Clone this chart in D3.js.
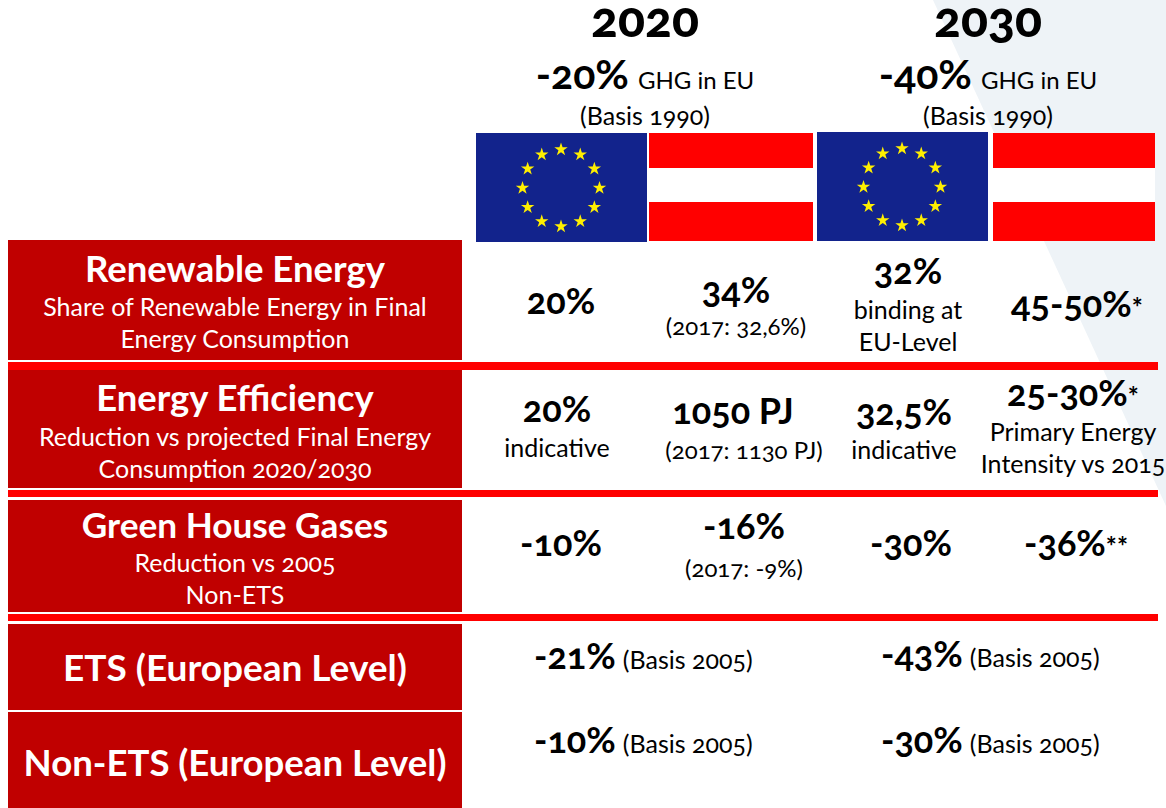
<!DOCTYPE html>
<html>
<head>
<meta charset="utf-8">
<script src="https://cdn.jsdelivr.net/npm/d3@7"></script>
<style>
  html, body { margin: 0; padding: 0; background: #fff; }
  svg { display: block; }
  text { font-family: Lato, "Open Sans", sans-serif; font-feature-settings: "onum"; }
</style>
</head>
<body>
<svg id="chart" width="1166" height="808"></svg>
<script>
// content
const years = ['2020', '2030'];
const ghgTargets = ['-20%', '-40%'];
const ghgLabel = 'GHG in EU';
const ghgBasis = '(Basis 1990)';
const flagKinds = ['eu', 'at', 'eu', 'at'];

const rowTitles = ['Renewable Energy', 'Energy Efficiency', 'Green House Gases', 'ETS (European Level)', 'Non-ETS (European Level)'];
const rowSubtitles = [
  ['Share of Renewable Energy in Final', 'Energy Consumption'],
  ['Reduction vs projected Final Energy', 'Consumption 2020/2030'],
  ['Reduction vs 2005', 'Non-ETS'],
  [],
  []
];

const renewableCells = [['20%', ''], ['34%', ''], ['32%', ''], ['45-50%', '*']];
const renewableNotes = [[], ['(2017: 32,6%)'], ['binding at', 'EU-Level'], []];
const efficiencyCells = [['20%', ''], ['1050 PJ', ''], ['32,5%', ''], ['25-30%', '*']];
const efficiencyNotes = [['indicative'], ['(2017: 1130 PJ)'], ['indicative'], ['Primary Energy', 'Intensity vs 2015']];
const ghgCells = [['-10%', ''], ['-16%', ''], ['-30%', ''], ['-36%', '**']];
const ghgNotes = [[], ['(2017: -9%)'], [], []];
const etsTargets = ['-21%', '-43%'];
const nonEtsTargets = ['-10%', '-30%'];
const spanBasis = '(Basis 2005)';

// layout
const RED_DARK = '#c00000', RED = '#ff0000', BLUE = '#12238c', YELLOW = '#ffef00';
const svg = d3.select('#chart');

const yearX = d3.scaleOrdinal().domain(years).range([645, 988]);
const rowBoxes = [[240, 360], [370, 488], [500, 612], [624, 710], [712, 808]];
const separators = [[362, 370], [490, 497], [614, 621]];
const flagBoxes = [[476, 647, 133, 242], [649, 813, 133, 241], [817, 988, 132, 241], [993, 1155, 133, 241]];

// pale corner in the background
svg.append('path')
  .attr('d', d3.line()([[933, 0], [1166, 0], [1166, 506]]))
  .attr('fill', '#eef3f7');

// flags
flagKinds.forEach((kind, i) => {
  const [x0, x1, y0, y1] = flagBoxes[i];
  if (kind === 'eu') {
    svg.append('rect').attr('x', x0).attr('y', y0).attr('width', x1 - x0).attr('height', y1 - y0).attr('fill', BLUE);
    const cx = (x0 + x1) / 2 - 0.5, cy = (y0 + y1) / 2 + 0.5;
    const star = d3.symbol().type(d3.symbolStar).size(56);
    d3.range(12).forEach(k => {
      const a = k * Math.PI / 6;
      svg.append('path')
        .attr('d', star())
        .attr('transform', `translate(${cx + 38.5 * Math.sin(a)},${cy - 38.5 * Math.cos(a)})`)
        .attr('fill', YELLOW);
    });
  } else {
    svg.append('rect').attr('x', x0).attr('y', y0).attr('width', x1 - x0).attr('height', y1 - y0).attr('fill', RED);
    svg.append('rect').attr('x', x0).attr('y', 168).attr('width', x1 - x0).attr('height', 34).attr('fill', '#fff');
  }
});

// red boxes on the left
svg.selectAll('rect.box')
  .data(rowBoxes)
  .enter()
  .append('rect')
  .attr('class', 'box')
  .attr('x', 8)
  .attr('width', 454)
  .attr('y', d => d[0])
  .attr('height', d => d[1] - d[0])
  .attr('fill', RED_DARK);

svg.selectAll('rect.sep')
  .data(separators)
  .enter()
  .append('rect')
  .attr('class', 'sep')
  .attr('x', 8)
  .attr('width', 1150)
  .attr('y', d => d[0])
  .attr('height', d => d[1] - d[0])
  .attr('fill', RED);

function label(x, y, str, size, weight, fill, anchor) {
  return svg.append('text')
    .attr('x', x).attr('y', y)
    .attr('font-size', size)
    .attr('font-weight', weight || 400)
    .attr('fill', fill || '#000')
    .attr('text-anchor', anchor || 'middle')
    .text(str);
}

// big number followed by a lighter part
function mixed(x, y, big, small, bigSize, smallSize, anchor, gap, smallWeight) {
  const t = svg.append('text')
    .attr('x', x).attr('y', y)
    .attr('text-anchor', anchor || 'middle')
    .attr('fill', '#000');
  t.append('tspan').attr('font-size', bigSize).attr('font-weight', 700).text(big);
  if (small) {
    t.append('tspan')
      .attr('font-size', smallSize)
      .attr('font-weight', smallWeight || 400)
      .attr('dx', gap || 0)
      .text(small);
  }
  return t;
}

// header
years.forEach((year, i) => {
  label(yearX(year), 37, year, 50, 900);
  mixed(yearX(year), 89, ghgTargets[i], ghgLabel, 41, 24, 'middle', 9);
  label(yearX(year), 125, ghgBasis, 25);
});

// row titles
const titleBase = [282, 411, 538, 681, 776];
const titleSize = [36.5, 36.4, 35.2, 37, 36.6];
const subBase = [[316, 348], [446, 478], [572, 604]];
rowTitles.forEach((title, i) => {
  label(235, titleBase[i], title, titleSize[i], 700, '#fff');
  rowSubtitles[i].forEach((line, j) => {
    label(235, subBase[i][j], line, 25, 400, '#fff');
  });
});

// cell grid
const cellRows = [
  { cells: renewableCells, notes: renewableNotes,
    x: [561, 736, 908, 1077], base: [314, 303, 284, 317],
    noteBase: [[], [335], [319, 351], []], noteSize: [0, 24, 25, 0] },
  { cells: efficiencyCells, notes: efficiencyNotes,
    x: [557, 733, 904, 1073], base: [422, 424, 425, 406],
    noteX: [557, 744, 904, 1073],
    noteBase: [[457], [459], [459], [441, 473]], noteSize: [25, 24, 25, 25] },
  { cells: ghgCells, notes: ghgNotes,
    x: [561, 744, 911, 1076], base: [556, 539, 556, 556],
    noteBase: [[], [577], [], []], noteSize: [0, 24, 0, 0] }
];

cellRows.forEach(row => {
  row.cells.forEach((cell, i) => {
    mixed(row.x[i], row.base[i], cell[0], cell[1], 36, 26, 'middle', 0, 700);
    row.notes[i].forEach((line, j) => {
      label((row.noteX || row.x)[i], row.noteBase[i][j], line, row.noteSize[i]);
    });
  });
});

// ETS rows, value spans the whole period
const spanX = [534, 881];
const spanBase = [[669, 667], [753, 753]];
[etsTargets, nonEtsTargets].forEach((targets, r) => {
  targets.forEach((target, i) => {
    mixed(spanX[i], spanBase[r][i], target, spanBasis, 36, 25, 'start', 7);
  });
});
</script>
</body>
</html>
